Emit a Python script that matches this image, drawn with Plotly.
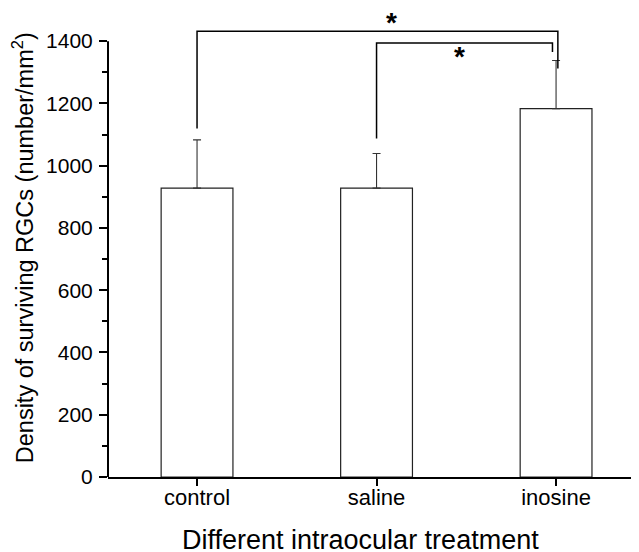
import plotly.graph_objects as go

# ---- data ----
categories = ["control", "saline", "inosine"]
density_mean = [928, 928, 1183]
density_err_plus = [155, 111, 155]
y_tick_values = [0, 200, 400, 600, 800, 1000, 1200, 1400]
y_minor_values = [100, 300, 500, 700, 900, 1100, 1300]

# significance brackets: (left x, right x), top level, left/right leg bottoms
bracket_x = [[0.0, 2.01], [1.0, 1.98]]
bracket_top = [1432, 1394]
bracket_left_bottom = [1119, 1087]
bracket_right_bottom = [1312, 1365]
star_x = [1.086, 1.46]
star_y = [1460, 1351]
star_text = ["*", "*"]

FONT = "Arial, Liberation Sans, sans-serif"
x_pos = list(range(len(categories)))

fig = go.Figure()
fig.add_trace(go.Bar(
    x=x_pos, y=density_mean, width=0.4,
    marker=dict(color="white", line=dict(color="#222222", width=1.2)),
    error_y=dict(type="data", symmetric=False, array=density_err_plus,
                 arrayminus=[0] * len(density_mean),
                 color="#333333", thickness=1.1, width=4),
    showlegend=False,
))

for (xl, xr), yt, yl, yr in zip(bracket_x, bracket_top, bracket_left_bottom, bracket_right_bottom):
    fig.add_trace(go.Scatter(
        x=[xl, xl, xr, xr], y=[yl, yt, yt, yr], mode="lines",
        line=dict(color="black", width=1.5), showlegend=False, hoverinfo="skip",
    ))

for sx, sy, st in zip(star_x, star_y, star_text):
    fig.add_annotation(x=sx, y=sy, xref="x", yref="y", text="<b>%s</b>" % st,
                       showarrow=False, font=dict(family=FONT, size=28, color="black"),
                       xanchor="center", yanchor="middle")

# y axis line only up to 1400
fig.add_shape(type="line", xref="paper", yref="y", x0=0, x1=0, y0=0, y1=y_tick_values[-1],
              line=dict(color="black", width=2))

fig.add_annotation(xref="paper", yref="paper", x=-0.161, y=0.491,
                   text="Density of surviving RGCs (number/mm<sup>2</sup>)",
                   textangle=-90, showarrow=False, xanchor="center", yanchor="middle",
                   font=dict(family=FONT, size=23.5, color="black"))
fig.add_annotation(xref="paper", yref="paper", x=0.475, y=-0.0992,
                   text="Different intraocular treatment",
                   showarrow=False, xanchor="center", yanchor="top",
                   font=dict(family=FONT, size=27, color="black"))

fig.update_layout(
    width=631, height=544,
    margin=dict(l=100, r=0, t=2, b=75),
    plot_bgcolor="white", paper_bgcolor="white",
    font=dict(family=FONT, color="black"),
)
fig.update_xaxes(
    range=[-0.496, 2.462], tickvals=x_pos, ticktext=categories,
    showline=True, linecolor="black", linewidth=2,
    ticks="outside", ticklen=7, tickwidth=1.5, tickcolor="black",
    tickfont=dict(family=FONT, size=22, color="black"),
    ticklabelstandoff=-7,
    showgrid=False, zeroline=False,
)
fig.update_yaxes(
    range=[0, 1500], tickvals=y_tick_values,
    showline=False, ticks="outside", ticklen=8, tickwidth=2, tickcolor="black",
    tickfont=dict(family=FONT, size=21, color="black"),
    ticklabelstandoff=2,
    minor=dict(tickvals=y_minor_values, ticks="outside", ticklen=5, tickwidth=2, tickcolor="black"),
    showgrid=False, zeroline=False,
)

fig.write_html("out.html")
